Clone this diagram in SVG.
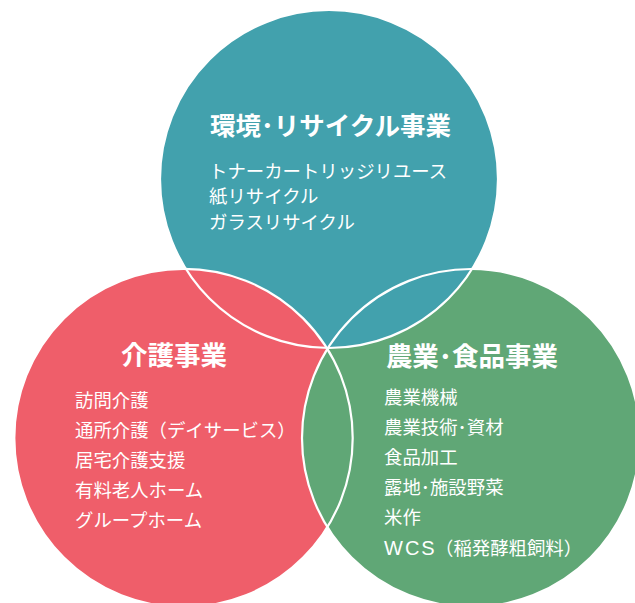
<svg xmlns="http://www.w3.org/2000/svg" width="635" height="603" viewBox="0 0 635 603">
<style>
text{font-family:"Noto Sans CJK JP","Noto Sans",sans-serif;fill:#fff}
.t{font-size:25.5px;font-weight:700;text-anchor:middle}
.i{font-size:18.4px}
.l{font-family:"Liberation Sans",Arial,sans-serif;font-size:20px;letter-spacing:2px}
.o{fill:none;stroke:#fff;stroke-width:2.2}
</style>
<defs>
<clipPath id="clipGreen"><circle cx="471" cy="438" r="169"/></clipPath>
</defs>
<rect width="635" height="603" fill="#fff"/>
<g id="recycle">
<circle cx="329" cy="179" r="169" fill="#42A1AD"/>
<text class="t" x="330.5" y="134.5">環境･リサイクル事業</text>
<text class="i" x="209" y="178">トナーカートリッジリユース</text>
<text class="i" x="209" y="203">紙リサイクル</text>
<text class="i" x="209" y="229">ガラスリサイクル</text>
</g>
<g id="care">
<circle cx="183.5" cy="438" r="169.2" fill="#EF5E6A"/>
<text class="t" x="174" y="365" style="font-size:26.5px">介護事業</text>
<text class="i" x="75" y="407">訪問介護</text>
<text class="i" x="75" y="437">通所介護（デイサービス）</text>
<text class="i" x="75" y="467">居宅介護支援</text>
<text class="i" x="75" y="497">有料老人ホーム</text>
<text class="i" x="75" y="527">グループホーム</text>
</g>
<g id="agri">
<circle cx="471" cy="438" r="169" fill="#60A776"/>
<text class="t" x="472" y="366" style="font-size:26.5px">農業･食品事業</text>
<text class="i" x="384" y="404">農業機械</text>
<text class="i" x="384" y="434">農業技術･資材</text>
<text class="i" x="384" y="464">食品加工</text>
<text class="i" x="384" y="494">露地･施設野菜</text>
<text class="i" x="384" y="524">米作</text>
<text class="l" x="384" y="555">WCS</text>
<text class="i" x="435" y="555">（稲発酵粗飼料）</text>
</g>
<g id="overlaps">
<circle cx="329" cy="179" r="169" fill="#42A1AD" clip-path="url(#clipGreen)"/>
</g>
<g id="outlines">
<circle class="o" cx="329" cy="179" r="169"/>
<circle class="o" cx="183.5" cy="438" r="169.2"/>
<circle class="o" cx="471" cy="438" r="169"/>
</g>
</svg>
